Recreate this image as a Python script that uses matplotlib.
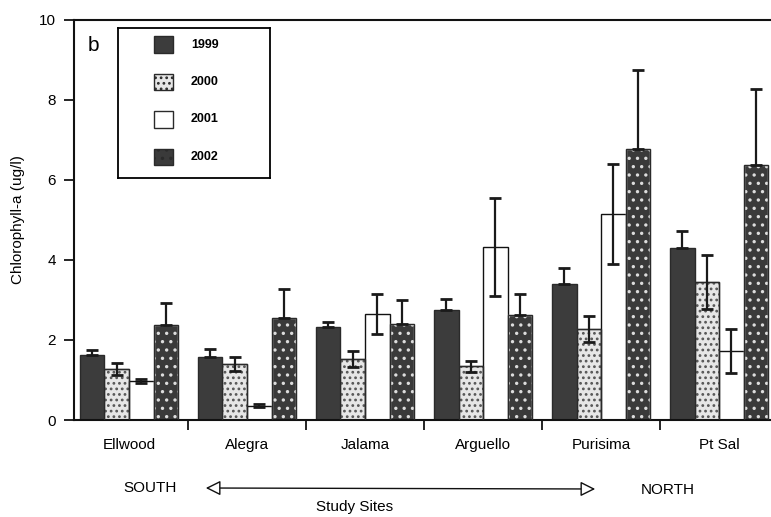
import matplotlib
matplotlib.use("Agg")
import matplotlib.pyplot as plt
import numpy as np
from matplotlib.patches import Rectangle

plt.rcParams['font.family'] = ['Liberation Sans', 'DejaVu Sans']
plt.rcParams['hatch.linewidth'] = 1.2

sites = ["Ellwood", "Alegra", "Jalama", "Arguello", "Purisima", "Pt Sal"]
years = ["1999", "2000", "2001", "2002"]
legend_labels = ["1999", "2000", "2001", "2002"]

v1999 = [1.62, 1.58, 2.32, 2.76, 3.40, 4.30]
v2000 = [1.27, 1.40, 1.52, 1.34, 2.27, 3.45]
v2001 = [0.97, 0.36, 2.65, 4.33, 5.15, 1.73]
v2002 = [2.38, 2.55, 2.40, 2.62, 6.78, 6.38]

e1999 = [0.14, 0.20, 0.13, 0.27, 0.40, 0.43]
e2000 = [0.15, 0.18, 0.20, 0.13, 0.33, 0.68]
e2001 = [0.05, 0.03, 0.50, 1.22, 1.26, 0.55]
e2002 = [0.55, 0.72, 0.60, 0.52, 1.96, 1.88]

yticks = [0, 2, 4, 6, 8, 10]

fig = plt.figure(figsize=(7.71, 5.17), dpi=100)
ax = fig.add_axes([0.096, 0.1876, 0.904, 0.774])

x = np.arange(len(sites))
w = 0.208
styles = [
    dict(facecolor="#3c3c3c", edgecolor="#2a2a2a", hatch=None),
    dict(facecolor="#e6e6e6", edgecolor="#555555", hatch="..."),
    dict(facecolor="white", edgecolor="#111111", hatch=None),
    dict(facecolor="#3a3a3a", edgecolor="#dddddd", hatch=".."),
]
vals = [v1999, v2000, v2001, v2002]
errs = [e1999, e2000, e2001, e2002]
for k in range(4):
    pos = x + (k - 1.5) * w
    st = styles[k]
    ax.bar(pos, vals[k], width=w, facecolor=st["facecolor"],
           edgecolor=st["edgecolor"], hatch=st["hatch"], linewidth=1.0, zorder=2)
    if k == 3 or k == 1:
        ax.bar(pos, vals[k], width=w, facecolor="none", edgecolor="#2a2a2a",
               linewidth=1.0, zorder=3)
    e = np.array(errs[k])
    if k in (0, 3):
        yerr = [np.zeros_like(e), e]
    else:
        yerr = e
    ax.errorbar(pos, vals[k], yerr=yerr, fmt="none", ecolor="#1a1a1a",
                elinewidth=1.6, capsize=4, capthick=2.0, zorder=4)

ax.set_xlim(-0.466, 5.44)
ax.set_ylim(0, 10)
ax.set_yticks(yticks)
ax.set_yticklabels([str(t) for t in yticks], fontsize=11)
ax.set_xticks(np.arange(0.5, 5.5, 1.0))
ax.set_xticklabels([])
ax.tick_params(axis="y", direction="out", length=7, width=1.2, pad=6)
ax.tick_params(axis="x", direction="out", length=7, width=1.2)
for i, s in enumerate(sites):
    ax.text(i, -0.45, s, ha="center", va="top", fontsize=11)

ax.spines["right"].set_visible(False)
for sp in ["left", "top", "bottom"]:
    ax.spines[sp].set_linewidth(1.5)
    ax.spines[sp].set_color("#111111")

ax.set_ylabel("Chlorophyll-a (ug/l)", fontsize=11, labelpad=10)

ax.text(0.02, 0.96, "b", transform=ax.transAxes, fontsize=15, va="top", ha="left")

# legend box
lax = fig.add_axes([118 / 771, 1 - 178 / 517, 152 / 771, 150 / 517])
lax.set_xlim(0, 1)
lax.set_ylim(0, 1)
lax.set_xticks([])
lax.set_yticks([])
for sp in lax.spines.values():
    sp.set_linewidth(1.3)
rows = [0.89, 0.64, 0.39, 0.14]
for k, yy in enumerate(rows):
    st = styles[k]
    lax.add_patch(Rectangle((0.24, yy - 0.055), 0.12, 0.11, facecolor=st["facecolor"],
                            edgecolor="#2a2a2a", hatch=st["hatch"], linewidth=1.0))
    lax.text(0.48, yy, legend_labels[k], va="center", ha="left", fontsize=9,
             fontweight="bold")

# direction arrow
fig.text(150 / 771, 1 - 488 / 517, "SOUTH", ha="center", va="center", fontsize=11)
fig.text(668 / 771, 1 - 490 / 517, "NORTH", ha="center", va="center", fontsize=11)
fig.text(355 / 771, 1 - 507 / 517, "Study Sites", ha="center", va="center", fontsize=11)
fig.add_artist(matplotlib.patches.FancyArrowPatch(
    (203 / 771, 1 - 488 / 517), (598 / 771, 1 - 489 / 517), transform=fig.transFigure,
    arrowstyle="<|-|>,head_length=6,head_width=3", mutation_scale=1.5,
    facecolor="white", edgecolor="#111111", linewidth=1.0))

fig.savefig("out.png", dpi=100)
